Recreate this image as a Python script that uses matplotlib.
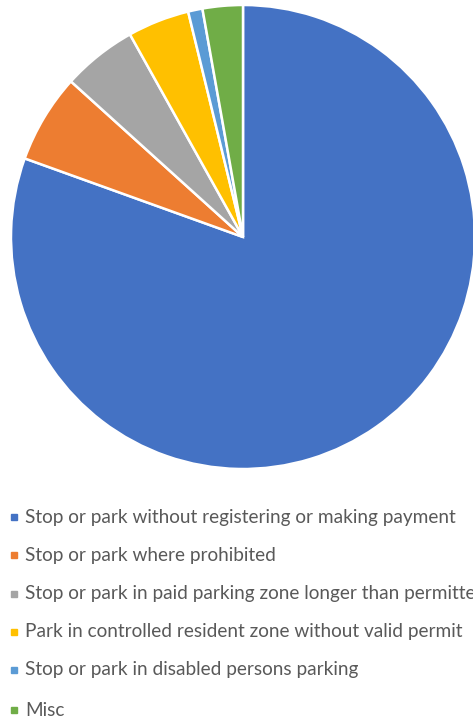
import matplotlib
matplotlib.use("Agg")
from matplotlib import pyplot as plt
from matplotlib.lines import Line2D

labels = [
    "Stop or park without registering or making payment",
    "Stop or park where prohibited",
    "Stop or park in paid parking zone longer than permitted",
    "Park in controlled resident zone without valid permit",
    "Stop or park in disabled persons parking",
    "Misc",
]
shares = [80.5, 6.2, 5.2, 4.3, 1.0, 2.8]
colors = ["#4472C4", "#ED7D31", "#A5A5A5", "#FFC000", "#5B9BD5", "#70AD47"]

W, H = 473, 721
fig = plt.figure(figsize=(W / 100, H / 100), dpi=100)

# pie: centre (243, 237) px, radius 232 px
cx, cy, r = 243, 237, 232
ax = fig.add_axes([(cx - r) / W, (H - cy - r) / H, 2 * r / W, 2 * r / H])
ax.pie(shares, colors=colors, startangle=90, counterclock=False, radius=1,
       wedgeprops=dict(edgecolor="white", linewidth=1.8))
ax.set_xlim(-1, 1)
ax.set_ylim(-1, 1)
ax.set_aspect("auto")
ax.axis("off")

# legend rows
row_y = [517, 555, 594, 632, 670, 710]
for lab, col, y in zip(labels, colors, row_y):
    fy = 1 - y / H
    fig.add_artist(Line2D([14 / W], [fy], marker="s", markersize=4, color=col,
                          linestyle="none", transform=fig.transFigure))
    fig.text(25 / W, fy, lab, fontsize=13.7, family="Lato", color="#595959",
             va="center", ha="left")

fig.savefig("out.png", dpi=100)
